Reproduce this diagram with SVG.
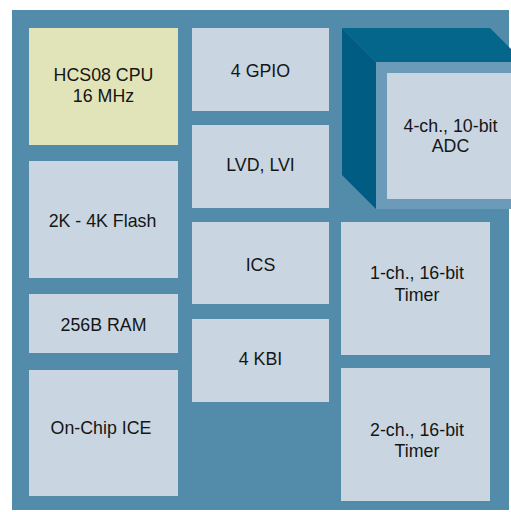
<svg xmlns="http://www.w3.org/2000/svg" width="511" height="512" viewBox="0 0 511 512">
<style>
.b{fill:#c9d5e1}
.cpu{fill:#e1e3b9}
text{font-family:"Liberation Sans",Arial,Helvetica,sans-serif;font-size:17.8px;fill:#151515;text-anchor:middle}
</style>
<rect x="0" y="0" width="511" height="512" fill="#ffffff"/>
<rect id="chip" x="12" y="10" width="497" height="500" fill="#538bab"/>
<g id="cpu"><rect class="cpu" x="29" y="28" width="149" height="117"/><text x="103.5" y="81">HCS08 CPU</text><text x="103.5" y="101.6">16 MHz</text></g>
<g id="flash"><rect class="b" x="29" y="161" width="149" height="117"/><text x="102.5" y="227.3">2K - 4K Flash</text></g>
<g id="ram"><rect class="b" x="29" y="294" width="149" height="59"/><text x="103.5" y="331">256B RAM</text></g>
<g id="ice"><rect class="b" x="29" y="370" width="149" height="126"/><text x="101" y="434.3">On-Chip ICE</text></g>
<g id="gpio"><rect class="b" x="192" y="28" width="137" height="83"/><text x="260.5" y="77">4 GPIO</text></g>
<g id="lvd"><rect class="b" x="192" y="125" width="137" height="83"/><text x="260.5" y="171">LVD, LVI</text></g>
<g id="ics"><rect class="b" x="192" y="222" width="137" height="82"/><text x="260.5" y="271">ICS</text></g>
<g id="kbi"><rect class="b" x="192" y="319" width="137" height="83"/><text x="260.5" y="365">4 KBI</text></g>
<g id="adc">
<polygon points="342,28 490,28 524,62 376,62" fill="#03668a"/>
<polygon points="342,28 376,62 376,209 342,175" fill="#005c83"/>
<rect x="376" y="62" width="150" height="147" fill="#6b9bb9"/>
<rect class="b" x="387" y="73" width="130" height="126"/>
<text x="450.5" y="131.7">4-ch., 10-bit</text><text x="450.5" y="151.7">ADC</text>
</g>
<g id="timer1"><rect class="b" x="341" y="222" width="149" height="133"/><text x="417" y="279">1-ch., 16-bit</text><text x="417" y="301">Timer</text></g>
<g id="timer2"><rect class="b" x="341" y="368" width="149" height="133"/><text x="417" y="436">2-ch., 16-bit</text><text x="417" y="456.7">Timer</text></g>
<g id="connectors"/>
</svg>
